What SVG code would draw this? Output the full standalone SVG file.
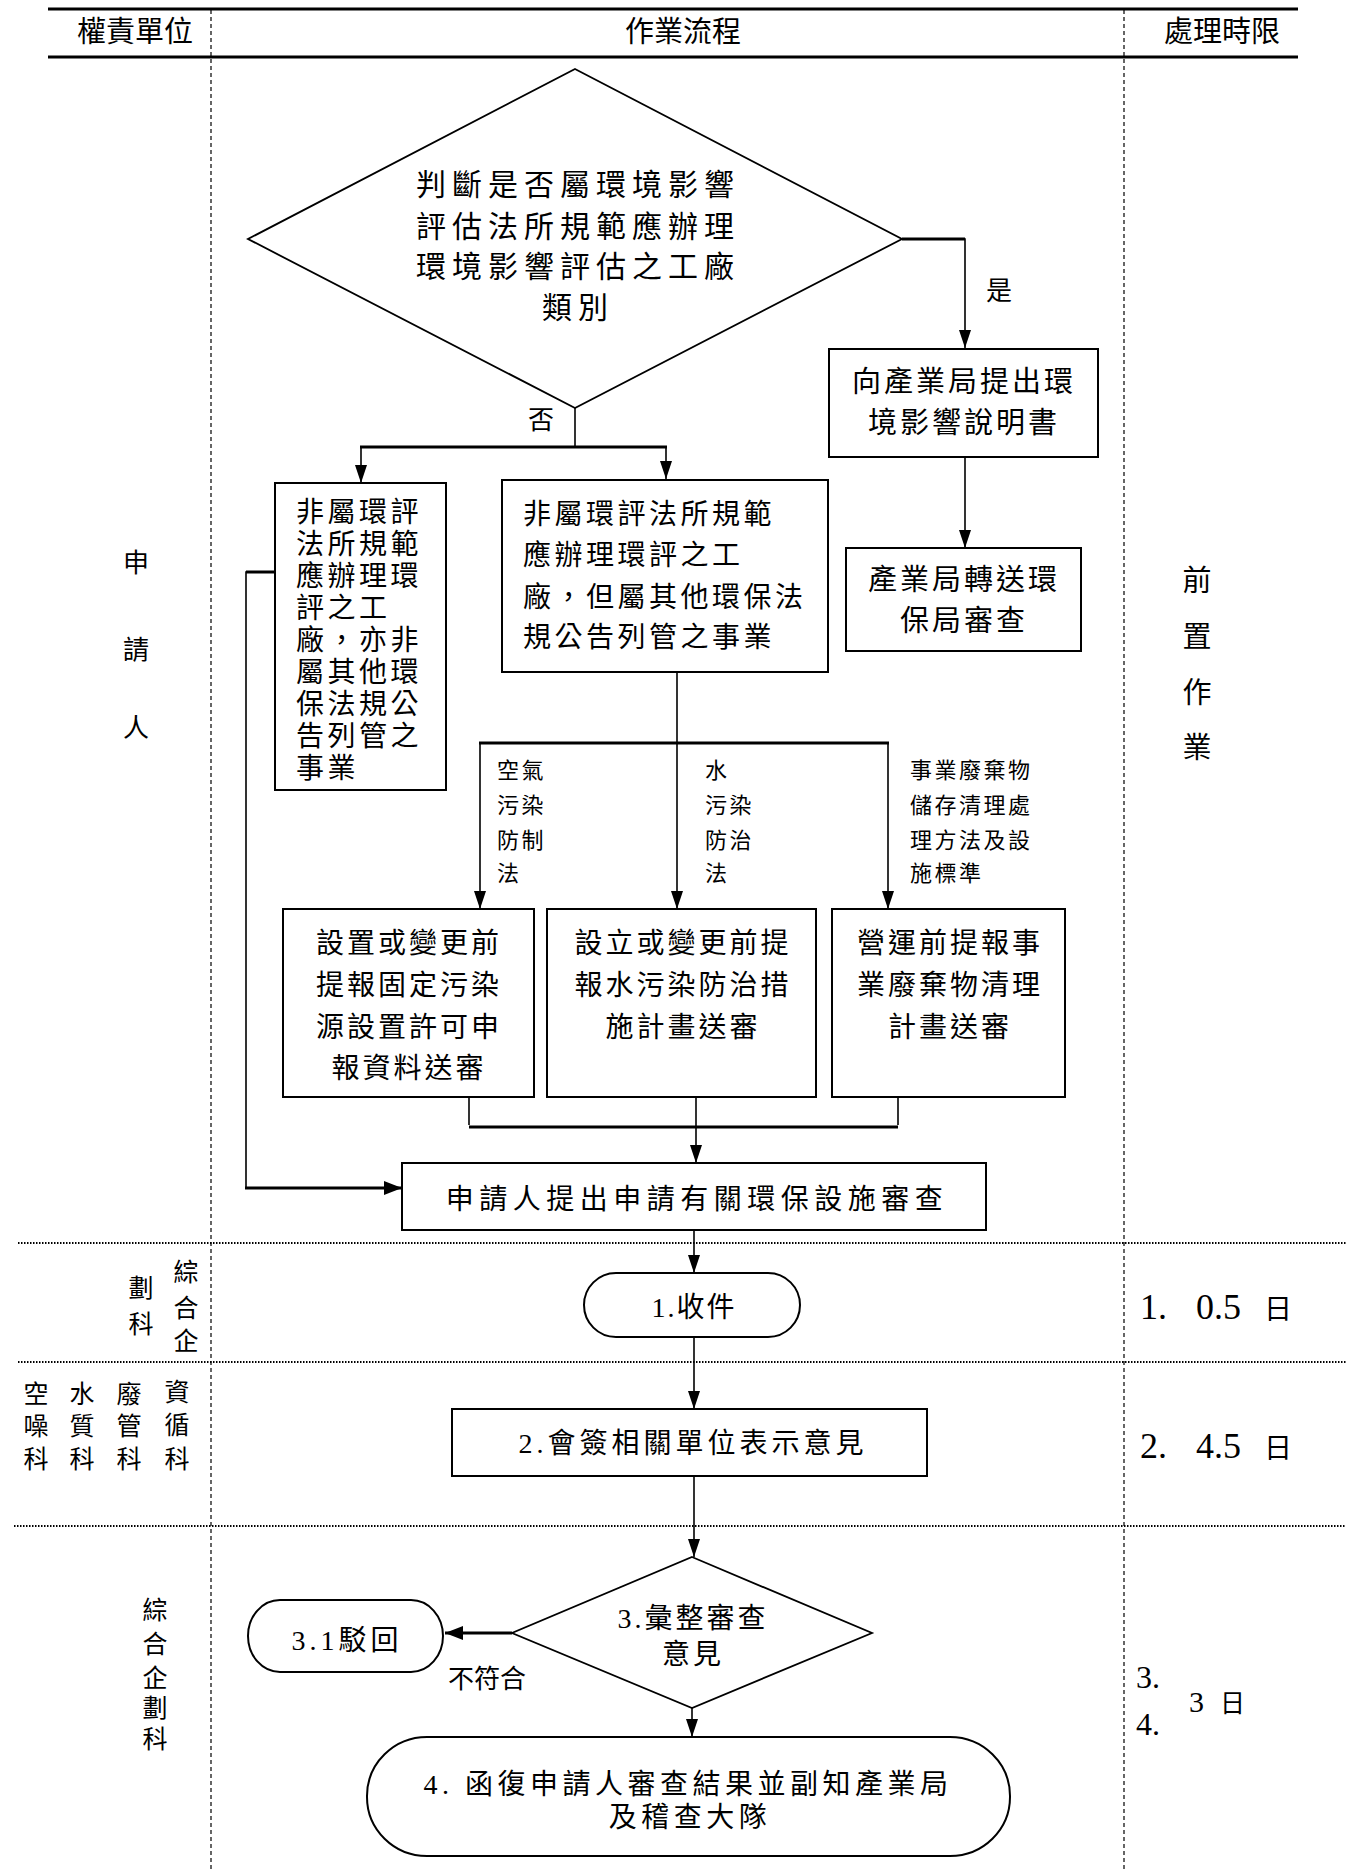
<svg xmlns="http://www.w3.org/2000/svg" width="1356" height="1869" viewBox="0 0 1356 1869">
<style>
text{font-family:'Liberation Serif','Noto Sans CJK TC',serif;fill:#000}
.hd{font-size:29px;text-anchor:middle}
.c{text-anchor:middle}
.b{fill:#fff;stroke:#000;stroke-width:2}
.ln{stroke:#000;stroke-width:1.6;fill:none}
.tk{stroke:#000;stroke-width:3;fill:none}
.dv{stroke:#000;stroke-width:1.2;stroke-dasharray:4 3}
.dh{stroke:#000;stroke-width:2;stroke-dasharray:1.5 1.5}
</style>
<defs>
<marker id="ar" viewBox="0 0 18 12" refX="18" refY="6" markerWidth="18" markerHeight="12" markerUnits="userSpaceOnUse" orient="auto">
<path d="M0,0 L18,6 L0,12 z" fill="#000"/>
</marker>
<marker id="ar2" viewBox="0 0 18 14" refX="18" refY="7" markerWidth="18" markerHeight="14" markerUnits="userSpaceOnUse" orient="auto">
<path d="M0,0 L18,7 L0,14 z" fill="#000"/>
</marker>
</defs>
<rect width="1356" height="1869" fill="#fff"/>

<g id="frame">
<line x1="48" y1="9" x2="1298" y2="9" stroke="#000" stroke-width="3"/>
<line x1="48" y1="57" x2="1298" y2="57" stroke="#000" stroke-width="3"/>
<line class="dv" x1="211" y1="10" x2="211" y2="1869"/>
<line class="dv" x1="1124" y1="10" x2="1124" y2="1869"/>
<line class="dh" x1="18" y1="1243" x2="1346" y2="1243"/>
<line class="dh" x1="18" y1="1362" x2="1346" y2="1362"/>
<line class="dh" x1="14" y1="1526" x2="1346" y2="1526"/>
<text class="hd" x="135" y="42">權責單位</text>
<text class="hd" x="683" y="42">作業流程</text>
<text class="hd" x="1222" y="42">處理時限</text>
</g>

<g id="lanes" style="font-size:26px" text-anchor="middle">
<text x="136" y="572">申</text>
<text x="136" y="659">請</text>
<text x="136" y="737">人</text>
<text x="1197" y="591" font-size="29">前</text>
<text x="1197" y="647" font-size="29">置</text>
<text x="1197" y="703" font-size="29">作</text>
<text x="1197" y="758" font-size="29">業</text>
<g font-size="25">
<text x="186" y="1281">綜</text>
<text x="186" y="1317">合</text>
<text x="186" y="1350">企</text>
<text x="141" y="1297">劃</text>
<text x="141" y="1333">科</text>
<text x="36" y="1403">空</text><text x="36" y="1435">噪</text><text x="36" y="1468">科</text>
<text x="82" y="1403">水</text><text x="82" y="1435">質</text><text x="82" y="1468">科</text>
<text x="129" y="1403">廢</text><text x="129" y="1435">管</text><text x="129" y="1468">科</text>
<text x="177" y="1401">資</text><text x="177" y="1434">循</text><text x="177" y="1468">科</text>
<text x="155" y="1619">綜</text>
<text x="155" y="1653">合</text>
<text x="155" y="1687">企</text>
<text x="155" y="1717">劃</text>
<text x="155" y="1748">科</text>
</g>
</g>

<g id="times" font-size="36">
<text y="1319"><tspan x="1140">1.</tspan><tspan x="1196">0.5</tspan><tspan x="1264" font-size="28">日</tspan></text>
<text y="1458"><tspan x="1140">2.</tspan><tspan x="1196">4.5</tspan><tspan x="1264" font-size="28">日</tspan></text>
<text x="1136" y="1688" font-size="32">3.</text>
<text x="1136" y="1735" font-size="32">4.</text>
<text y="1712"><tspan x="1189" font-size="30">3</tspan><tspan x="1220" font-size="25">日</tspan></text>
</g>

<g id="connectors">
<polyline class="ln" points="902,239 965,239 965,348" marker-end="url(#ar)"/>
<line class="tk" x1="902" y1="239" x2="965" y2="239"/>
<line class="ln" x1="575" y1="408" x2="575" y2="447"/>
<line class="tk" x1="360" y1="447" x2="667" y2="447"/>
<line class="ln" x1="361" y1="447" x2="361" y2="483" marker-end="url(#ar)"/>
<line class="ln" x1="666" y1="447" x2="666" y2="479" marker-end="url(#ar)"/>
<line class="ln" x1="965" y1="457" x2="965" y2="548" marker-end="url(#ar)"/>
<polyline class="ln" points="275,572 246,572 246,1188"/>
<line class="tk" x1="246" y1="572" x2="275" y2="572"/>
<line class="tk" x1="245" y1="1188" x2="402" y2="1188" marker-end="url(#ar2)"/>
<line class="ln" x1="677" y1="672" x2="677" y2="743"/>
<line class="tk" x1="479" y1="743" x2="889" y2="743"/>
<line class="ln" x1="480" y1="743" x2="480" y2="909" marker-end="url(#ar)"/>
<line class="ln" x1="677" y1="743" x2="677" y2="909" marker-end="url(#ar)"/>
<line class="ln" x1="888" y1="743" x2="888" y2="909" marker-end="url(#ar)"/>
<line class="ln" x1="469" y1="1097" x2="469" y2="1125"/>
<line class="ln" x1="898" y1="1093" x2="898" y2="1125"/>
<line class="tk" x1="469" y1="1127" x2="898" y2="1127"/>
<line class="ln" x1="696" y1="1097" x2="696" y2="1163" marker-end="url(#ar)"/>
<line class="ln" x1="694" y1="1230" x2="694" y2="1273" marker-end="url(#ar)"/>
<line class="ln" x1="694" y1="1337" x2="694" y2="1409" marker-end="url(#ar)"/>
<line class="ln" x1="694" y1="1476" x2="694" y2="1557" marker-end="url(#ar)"/>
<line class="tk" x1="512" y1="1633" x2="445" y2="1633" marker-end="url(#ar2)"/>
<line class="ln" x1="692" y1="1708" x2="692" y2="1737" marker-end="url(#ar)"/>
<text x="999" y="300" font-size="26" text-anchor="middle">是</text>
<text x="541" y="429" font-size="26" text-anchor="middle">否</text>
<text x="487" y="1688" font-size="26" text-anchor="middle">不符合</text>
<g font-size="22" letter-spacing="2.5">
<text x="497" y="778">空氣</text><text x="497" y="813">污染</text><text x="497" y="848">防制</text><text x="497" y="881">法</text>
<text x="705" y="778">水</text><text x="705" y="813">污染</text><text x="705" y="848">防治</text><text x="705" y="881">法</text>
<text x="910" y="778">事業廢棄物</text><text x="910" y="813">儲存清理處</text><text x="910" y="848">理方法及設</text><text x="910" y="881">施標準</text>
</g>
</g>

<g id="n-decision1">
<polygon class="b" points="575,69 902,239 575,408 248,239" style="stroke-width:1.8"/>
<g class="c" font-size="30" letter-spacing="6">
<text x="578" y="195">判斷是否屬環境影響</text>
<text x="578" y="237">評估法所規範應辦理</text>
<text x="578" y="277">環境影響評估之工廠</text>
<text x="578" y="318">類別</text>
</g>
</g>

<g id="n-eia">
<rect class="b" x="829" y="349" width="269" height="108"/>
<g class="c" font-size="29" letter-spacing="3">
<text x="964" y="392">向產業局提出環</text>
<text x="964" y="433">境影響說明書</text>
</g>
</g>

<g id="n-transfer">
<rect class="b" x="846" y="548" width="235" height="103"/>
<g class="c" font-size="29" letter-spacing="3">
<text x="964" y="590">產業局轉送環</text>
<text x="964" y="631">保局審查</text>
</g>
</g>

<g id="n-none">
<rect class="b" x="275" y="483" width="171" height="307"/>
<g font-size="28" letter-spacing="3.5">
<text x="296" y="522">非屬環評</text>
<text x="296" y="554">法所規範</text>
<text x="296" y="586">應辦理環</text>
<text x="296" y="618">評之工</text>
<text x="296" y="650">廠，亦非</text>
<text x="296" y="682">屬其他環</text>
<text x="296" y="714">保法規公</text>
<text x="296" y="746">告列管之</text>
<text x="296" y="778">事業</text>
</g>
</g>

<g id="n-other">
<rect class="b" x="502" y="480" width="326" height="192"/>
<g font-size="28" letter-spacing="3.5">
<text x="523" y="524">非屬環評法所規範</text>
<text x="523" y="565">應辦理環評之工</text>
<text x="523" y="607">廠，但屬其他環保法</text>
<text x="523" y="647">規公告列管之事業</text>
</g>
</g>

<g id="n-air">
<rect class="b" x="283" y="909" width="251" height="188"/>
<g class="c" font-size="28" letter-spacing="3">
<text x="409" y="953">設置或變更前</text>
<text x="409" y="995">提報固定污染</text>
<text x="409" y="1037">源設置許可申</text>
<text x="409" y="1078">報資料送審</text>
</g>
</g>

<g id="n-water">
<rect class="b" x="547" y="909" width="269" height="188"/>
<g class="c" font-size="28" letter-spacing="3">
<text x="683" y="953">設立或變更前提</text>
<text x="683" y="995">報水污染防治措</text>
<text x="683" y="1037">施計畫送審</text>
</g>
</g>

<g id="n-waste">
<rect class="b" x="832" y="909" width="233" height="188"/>
<g class="c" font-size="28" letter-spacing="3">
<text x="950" y="953">營運前提報事</text>
<text x="950" y="995">業廢棄物清理</text>
<text x="950" y="1037">計畫送審</text>
</g>
</g>

<g id="n-apply">
<rect class="b" x="402" y="1163" width="584" height="67"/>
<text class="c" x="697" y="1209" font-size="28" letter-spacing="5.5">申請人提出申請有關環保設施審查</text>
</g>

<g id="n-receive">
<rect class="b" x="584" y="1273" width="216" height="64" rx="32" ry="32"/>
<text class="c" x="694" y="1317" font-size="28" letter-spacing="2">1.收件</text>
</g>

<g id="n-sign">
<rect class="b" x="452" y="1409" width="475" height="67"/>
<text class="c" x="693" y="1453" font-size="28" letter-spacing="4">2.會簽相關單位表示意見</text>
</g>

<g id="n-decision2">
<polygon class="b" points="692,1557 872,1633 692,1708 512,1633" style="stroke-width:1.8"/>
<text class="c" x="693" y="1628" font-size="28" letter-spacing="3">3.彙整審查</text>
<text class="c" x="693" y="1664" font-size="28" letter-spacing="3">意見</text>
</g>

<g id="n-reject">
<rect class="b" x="248" y="1600" width="195" height="72" rx="32" ry="36"/>
<text class="c" x="347" y="1650" font-size="28" letter-spacing="4">3.1駁回</text>
</g>

<g id="n-reply">
<rect class="b" x="367" y="1737" width="643" height="119" rx="60" ry="59"/>
<text class="c" x="688" y="1794" font-size="28" letter-spacing="4.5">4. 函復申請人審查結果並副知產業局</text>
<text class="c" x="690" y="1827" font-size="28" letter-spacing="4.5">及稽查大隊</text>
</g>
</svg>
